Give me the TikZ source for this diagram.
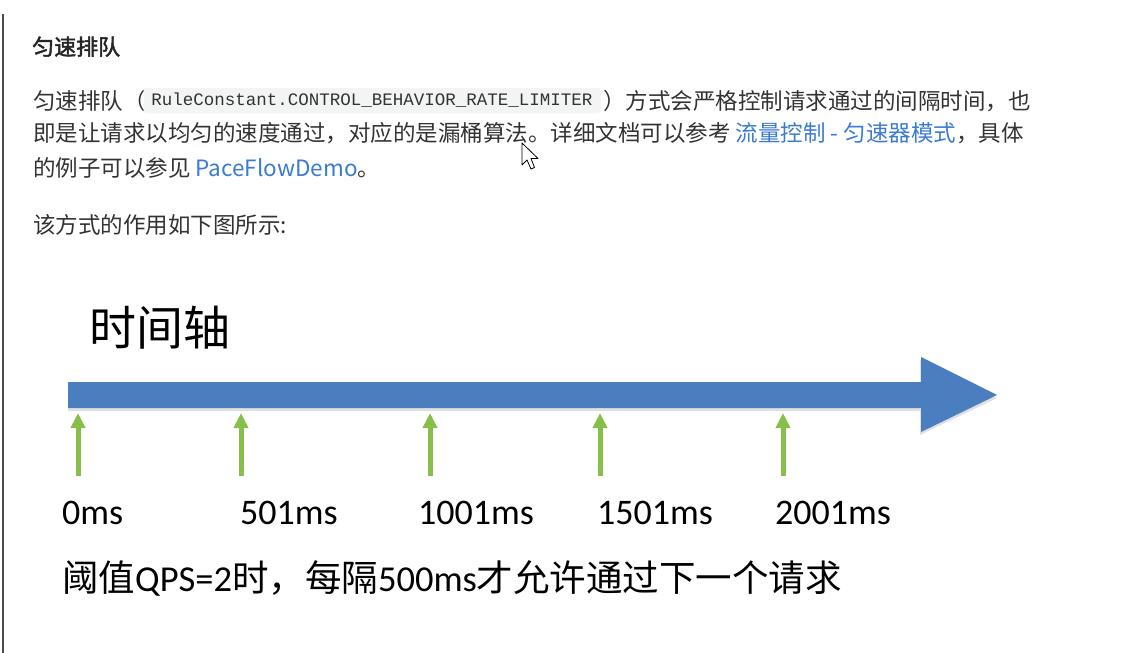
\documentclass[tikz,border=0pt]{standalone}
\usepackage{fontspec}
\setmainfont{Noto Sans CJK SC}
\newfontfamily\cjk{Noto Sans CJK SC}
\newfontfamily\cjkbold[FakeBold=2]{Noto Sans CJK SC}
\newfontfamily\codefont{Liberation Mono}
\newfontfamily\lab{Carlito}
\usetikzlibrary{arrows.meta}
\definecolor{bodytext}{HTML}{333333}
\definecolor{linkblue}{HTML}{3B7BD4}
\definecolor{codebg}{HTML}{F3F4F4}
\definecolor{axisblue}{HTML}{4A7EBF}
\definecolor{reqgreen}{HTML}{86C04A}
\tikzset{
  body/.style={anchor=base west, inner sep=0pt, text=bodytext, font=\cjk\fontsize{22.5}{26}\selectfont},
  codebox/.style={fill=codebg, rounded corners=3pt, inner xsep=0pt, inner ysep=0pt, minimum width=457, minimum height=25, text=bodytext, font=\codefont\fontsize{17.5}{20}\selectfont},
  tick/.style={anchor=west, inner sep=0pt, text=black, font=\lab\fontsize{36}{40}\selectfont},
  req/.style={draw=reqgreen, line width=5pt, -{Triangle[width=14pt,length=15pt]}},
}
\begin{document}
\begin{tikzpicture}[x=1pt,y=-1pt]
\useasboundingbox (0,0) rectangle (1135,653);
\fill[white] (0,0) rectangle (1135,653);
% left page border
\coordinate (bt) at (3,14);
\coordinate (bb) at (3,653);
\draw[line width=1.5pt, black!70] (bt) -- (bb);

% text block
\node[body, font=\cjkbold\fontsize{22}{26}\selectfont, text=black!85] (head) at (32,55) {匀速排队};
\node[body] (l1a) at (33,109) {匀速排队（};
\node[codebox] (code) at (372,100.5) {RuleConstant.CONTROL\_BEHAVIOR\_RATE\_LIMITER};
\node[body] (l1b) at (603,109) {）方式会严格控制请求通过的间隔时间，也};
\node[body] (l2) at (33,141) {即是让请求以均匀的速度通过，对应的是漏桶算法。详细文档可以参考 {\color{linkblue}流量控制 - 匀速器模式}，具体};
\node[body] (l3) at (33,176) {的例子可以参见 {\color{linkblue}PaceFlowDemo}。};
\node[body] (l4) at (33,233) {该方式的作用如下图所示:};

% mouse cursor
\draw[fill=white, draw=black, line width=0.8pt, line join=round]
  (522,143) -- (522,165) -- (527,160) -- (531,169) -- (534.5,167.5) -- (531,158.5) -- (538,158.5) -- cycle;

% diagram
\node[anchor=west, inner sep=0pt, font=\cjk\fontsize{47}{50}\selectfont] (title) at (89,328) {时间轴};

\fill[black!12] (68,386) -- (920,386) -- (920,360) -- (997,398) -- (920,435) -- (920,411) -- (68,411) -- cycle;
\fill[axisblue] (68,382) -- (921,382) -- (921,357) -- (997,395) -- (921,432) -- (921,408) -- (68,408) -- cycle;

\foreach \i/\x/\lx/\t in {0/78/62/0ms,1/241/240/501ms,2/430/418/1001ms,3/600/597/1501ms,4/783/775/2001ms}{
  \coordinate (s\i) at (\x,476);
  \coordinate (e\i) at (\x,413);
  \draw[req] (s\i) -- (e\i);
  \node[tick] (t\i) at (\lx,513) {\t};
}

\node[anchor=west, inner sep=0pt, text=black, font=\fontsize{36.5}{40}\selectfont] (note) at (62,578)
  {{\cjk 阈值}{\lab QPS=2}{\cjk 时，每隔}{\lab 500ms}{\cjk 才允许通过下一个请求}};
\end{tikzpicture}
\end{document}
